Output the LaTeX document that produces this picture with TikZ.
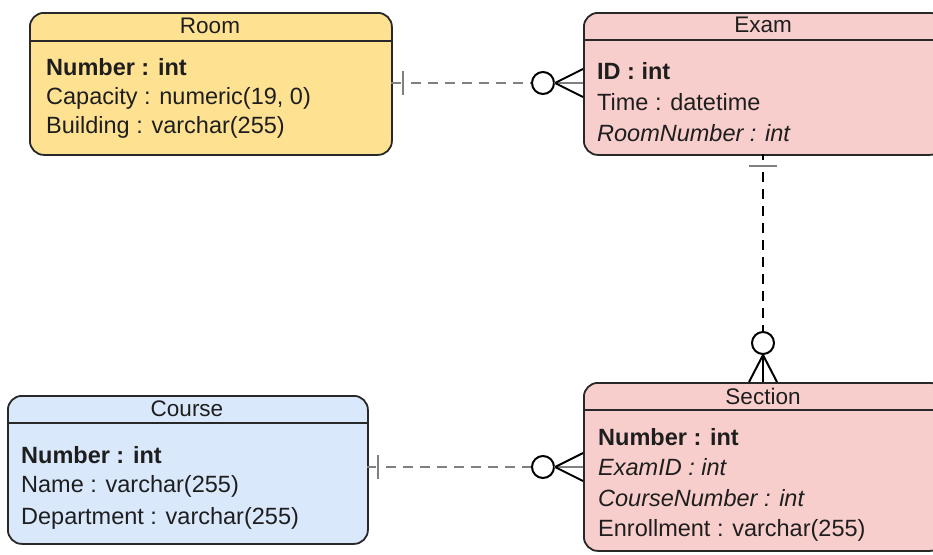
\documentclass[tikz,border=0pt]{standalone}
\usepackage{fontspec}
\setmainfont{Liberation Sans}
\usetikzlibrary{calc}
\definecolor{roomfill}{RGB}{254,226,146}
\definecolor{pinkfill}{RGB}{248,206,204}
\definecolor{bluefill}{RGB}{218,232,252}
\definecolor{edgec}{RGB}{40,40,40}
\definecolor{relgray}{RGB}{128,128,128}
\definecolor{txt}{RGB}{30,30,30}
\tikzset{
  entity/.style={draw=edgec, line width=1.8pt, rounded corners=14pt, inner sep=0pt, anchor=north west},
  hline/.style={draw=edgec, line width=1.8pt},
  etitle/.style={inner sep=0pt, text=txt, font=\fontsize{22.5}{26}\selectfont},
  erow/.style={inner sep=0pt, anchor=west, text=txt, font=\fontsize{23.5}{27}\selectfont},
  relg/.style={draw=relgray, line width=2.6pt, dash pattern=on 10pt off 7pt},
  relk/.style={draw=black, line width=2.2pt, dash pattern=on 10pt off 7pt},
  solidg/.style={draw=relgray, line width=2.6pt},
  solidk/.style={draw=black, line width=2pt},
}
\begin{document}
\begin{tikzpicture}[x=1pt,y=-1pt]
\useasboundingbox[fill=white] (0,0) rectangle (933,554);

% ---------- Room ----------
\node[entity, fill=roomfill, minimum width=362pt, minimum height=142pt] (room) at (29,12) {};
\draw[hline] (29,41) -- (391,41);
\node[etitle] (roomT) at (210,26) {Room};
\node[erow] (roomA) at (46,67) {\textbf{Number : int}};
\node[erow] (roomB) at (46,98) {Capacity : numeric(19, 0)};
\node[erow] (roomC) at (46,127) {Building : varchar(255)};

% ---------- Exam ----------
\node[entity, fill=pinkfill, minimum width=360pt, minimum height=142pt] (exam) at (583,12) {};
\draw[hline] (583,40) -- (943,40);
\node[etitle] (examT) at (763,25) {Exam};
\node[erow] (examA) at (597,71) {\textbf{ID : int}};
\node[erow] (examB) at (597,102) {Time : datetime};
\node[erow] (examC) at (597,133) {\itshape RoomNumber : int};

% ---------- Course ----------
\node[entity, fill=bluefill, minimum width=360pt, minimum height=148pt] (course) at (7,395) {};
\draw[hline] (7,423) -- (367,423);
\node[etitle] (courseT) at (187,409) {Course};
\node[erow] (courseA) at (21,455) {\textbf{Number : int}};
\node[erow] (courseB) at (21,486) {Name : varchar(255)};
\node[erow] (courseC) at (21,518) {Department : varchar(255)};

% ---------- Section ----------
\node[entity, fill=pinkfill, minimum width=360pt, minimum height=168pt] (section) at (583,382) {};
\draw[hline] (583,410) -- (943,410);
\node[etitle] (sectionT) at (763,396) {Section};
\node[erow] (sectionA) at (598,437) {\textbf{Number : int}};
\node[erow] (sectionB) at (598,467) {\itshape ExamID : int};
\node[erow] (sectionC) at (598,498) {\itshape CourseNumber : int};
\node[erow] (sectionD) at (598,530) {Enrollment : varchar(255)};

% ---------- Room -- Exam ----------
\coordinate (r1a) at (391,83);
\coordinate (r1b) at (583,83);
\draw[solidg] (r1a) -- ($(r1a)+(10,0)$);
\draw[solidg] ($(r1a)+(12,-12)$) -- ($(r1a)+(12,12)$);
\draw[relg] ($(r1a)+(20,0)$) -- ($(r1b)+(-51,0)$);
\draw[solidk] ($(r1b)+(-40,0)$) circle[radius=11pt];
\draw[solidg] ($(r1b)+(-29,0)$) -- (r1b);
\draw[solidk] ($(r1b)+(-28,0)$) -- ($(r1b)+(0,-14)$);
\draw[solidk] ($(r1b)+(-28,0)$) -- ($(r1b)+(0,14)$);

% ---------- Exam -- Section ----------
\coordinate (r2a) at (763,154);
\coordinate (r2b) at (763,382);
\draw[solidk] (r2a) -- ($(r2a)+(0,6)$);
\draw[solidg] ($(r2a)+(-14,12)$) -- ($(r2a)+(14,12)$);
\draw[relk] ($(r2a)+(0,18)$) -- ($(r2b)+(0,-51)$);
\draw[solidk] ($(r2b)+(0,-39)$) circle[radius=11pt];
\draw[solidk] ($(r2b)+(0,-28)$) -- (r2b);
\draw[solidk] ($(r2b)+(0,-27)$) -- ($(r2b)+(-14,0)$);
\draw[solidk] ($(r2b)+(0,-27)$) -- ($(r2b)+(14,0)$);

% ---------- Course -- Section ----------
\coordinate (r3a) at (367,467);
\coordinate (r3b) at (583,467);
\draw[solidg] (r3a) -- ($(r3a)+(9,0)$);
\draw[solidg] ($(r3a)+(11,-12)$) -- ($(r3a)+(11,12)$);
\draw[relg] ($(r3a)+(19,0)$) -- ($(r3b)+(-51,0)$);
\draw[solidk] ($(r3b)+(-40,0)$) circle[radius=11pt];
\draw[solidg] ($(r3b)+(-29,0)$) -- (r3b);
\draw[solidk] ($(r3b)+(-28,0)$) -- ($(r3b)+(0,-14)$);
\draw[solidk] ($(r3b)+(-28,0)$) -- ($(r3b)+(0,14)$);
\end{tikzpicture}
\end{document}
